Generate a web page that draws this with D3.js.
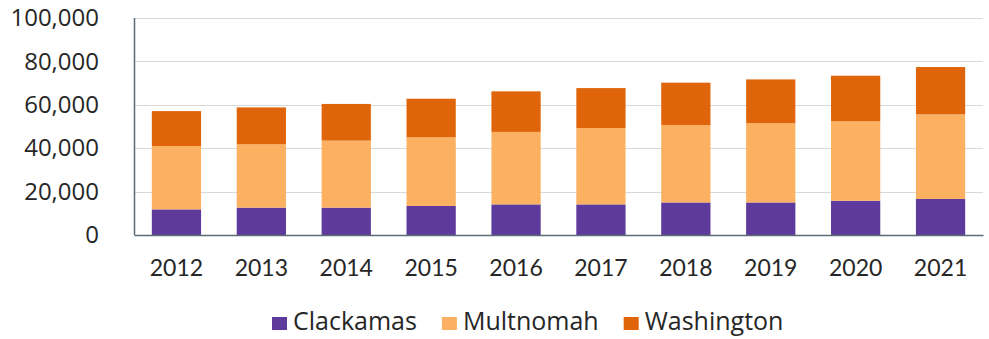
<!DOCTYPE html>
<html>
<head>
<meta charset="utf-8">
<script src="https://cdn.jsdelivr.net/npm/d3@7"></script>
<style>
  body { margin: 0; background: #fff; }
  .grid line { stroke: #d9d9d9; }
  .y-axis text { font-family: "Open Sans", sans-serif; font-size: 24px; fill: #262626; }
  .x-axis text { font-family: Lato, "Open Sans", sans-serif; font-size: 23px; fill: #262626; }
  .legend text { font-family: "Open Sans", sans-serif; font-size: 25px; fill: #262626; }
</style>
</head>
<body>
<div id="chart"></div>
<script>
const height = 339,
    width = 989,
    margin = ({ top: 18, right: 6, bottom: 104, left: 134 });

const years = ["2012", "2013", "2014", "2015", "2016", "2017", "2018", "2019", "2020", "2021"];
const counties = ["Clackamas", "Multnomah", "Washington"];
const clackamas = [11800, 12600, 12600, 13400, 14100, 14100, 15000, 15000, 15800, 16600];
const multnomah = [29200, 29200, 30900, 31600, 33400, 35100, 35700, 36500, 36600, 39000];
const washington = [16100, 17000, 16900, 17800, 18700, 18500, 19500, 20200, 21000, 21800];
const yTicks = [0, 20000, 40000, 60000, 80000, 100000];
const colors = ["#5d3a9b", "#fbb161", "#e0650a"];

// table for the stack
let data = years.map((yr, i) => ({
    year: yr,
    Clackamas: clackamas[i],
    Multnomah: multnomah[i],
    Washington: washington[i]
}));

const svg = d3.select("#chart")
    .append("svg")
    .attr("width", width)
    .attr("height", height);

let x = d3.scaleBand()
    .domain(years)
    .range([margin.left, width - margin.right])
    .paddingInner(0.42)
    .paddingOuter(0.21);

let y = d3.scaleLinear()
    .domain([0, 100000])
    .range([height - margin.bottom, margin.top]);

let color = d3.scaleOrdinal().domain(counties).range(colors);

// gridlines
svg.append("g")
    .attr("class", "grid")
    .selectAll("line")
    .data(yTicks.slice(1))
    .join("line")
      .attr("x1", margin.left)
      .attr("x2", width - margin.right)
      .attr("y1", d => Math.round(y(d)) + 0.5)
      .attr("y2", d => Math.round(y(d)) + 0.5);

let stack = d3.stack().keys(counties)(data);

svg.append("g")
  .selectAll("g")
  .data(stack)
  .join("g")
    .attr("fill", d => color(d.key))
  .selectAll("rect")
  .data(d => d)
  .join("rect")
    .attr("x", d => x(d.data.year))
    .attr("y", d => y(d[1]))
    .attr("height", d => y(d[0]) - y(d[1]))
    .attr("width", x.bandwidth());

// y axis labels
svg.append("g")
    .attr("class", "y-axis")
    .attr("transform", `translate(${margin.left - 32},0)`)
    .call(d3.axisLeft(y).tickValues(yTicks).tickFormat(d3.format(",")).tickSize(0))
    .call(g => g.select(".domain").remove());

// axis lines
svg.append("line")
    .attr("x1", margin.left + 0.5).attr("x2", margin.left + 0.5)
    .attr("y1", y(100000)).attr("y2", y(0))
    .attr("stroke", "#5b6b78").attr("stroke-width", 1.5);

svg.append("g")
    .attr("class", "x-axis")
    .attr("transform", `translate(0,${y(0)})`)
    .call(d3.axisBottom(x).tickSize(0).tickPadding(25))
    .call(g => g.select(".domain").attr("stroke", "#5b6b78").attr("stroke-width", 1.5));

// legend, laid out by measured text widths (baseline at y=330)
let legend = svg.append("g")
    .attr("class", "legend")
    .attr("transform", "translate(272,330)");

let lx = 0;
counties.forEach(c => {
    let item = legend.append("g").attr("transform", `translate(${lx},0)`);
    item.append("rect")
        .attr("y", -13)
        .attr("width", 15)
        .attr("height", 13)
        .attr("fill", color(c));
    let t = item.append("text")
        .attr("x", 21)
        .text(c);
    lx += 21 + t.node().getComputedTextLength() + 25;
});
</script>
</body>
</html>
